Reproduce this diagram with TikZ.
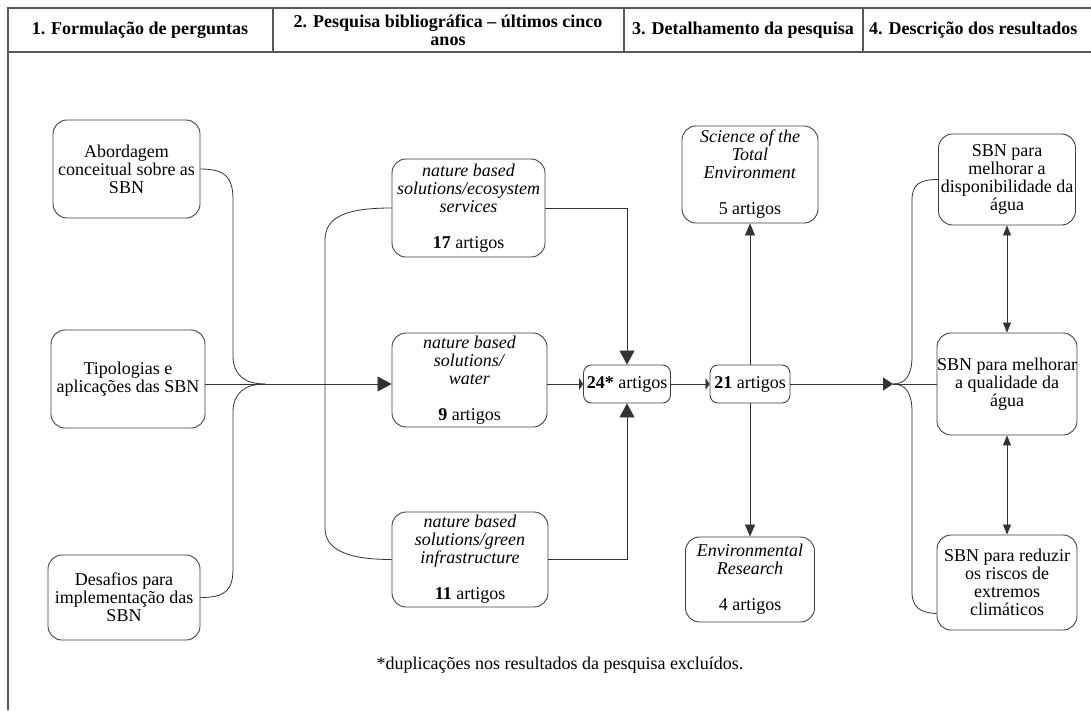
\documentclass[tikz,border=0pt]{standalone}
\usepackage{fontspec}
\setmainfont{Liberation Serif}
\usetikzlibrary{arrows.meta}
\begin{document}
\begin{tikzpicture}[x=1pt,y=-1pt,
  every node/.style={font=\fontsize{18}{18}\selectfont, inner sep=0pt, align=center, text=black},
  box/.style={draw=black!75, line width=0.9pt, rounded corners=14pt},
  sbox/.style={draw=black!75, line width=0.9pt, rounded corners=8pt},
  ln/.style={draw=black!80, line width=0.8pt},
  hdr/.style={draw=black!65, line width=1.2pt},
  big/.style={ln, -{Triangle[length=14pt,width=15pt]}},
  mida/.style={ln, -{Triangle[length=10pt,width=13pt]}},
  med/.style={ln, -{Triangle[length=12pt,width=10pt]}},
  flat/.style={ln, -{Triangle[length=4pt,width=12pt]}},
  dbl/.style={ln, {Triangle[length=10pt,width=8pt]}-{Triangle[length=10pt,width=8pt]}}
]
\path[clip] (0,0) rectangle (1091,710);
\fill[white] (0,0) rectangle (1091,710);

% frame and header
\draw[hdr] (8,710) -- (8,8) -- (1091,8);
\draw[hdr] (8,52) -- (1091,52);
\draw[hdr] (273,8) -- (273,52);
\draw[hdr] (624,8) -- (624,52);
\draw[hdr] (863,8) -- (863,52);
\node (h1) at (140,30) {\textbf{1. Formulação de perguntas}};
\node (h2) at (448,30) {\textbf{2. Pesquisa bibliográfica – últimos cinco}\\\textbf{anos}};
\node (h3) at (743,30) {\textbf{3. Detalhamento da pesquisa}};
\node[anchor=west] (h4) at (869,30) {\textbf{4. Descrição dos resultados}};

% column 1
\node[box, minimum width=147pt, minimum height=98pt] (abo) at (126.5,169) {Abordagem\\conceitual sobre as\\SBN};
\node[box, minimum width=154pt, minimum height=98pt] (tip) at (128,379) {Tipologias e\\aplicações das SBN};
\node[box, minimum width=152pt, minimum height=85pt] (des) at (124,597.5) {Desafios para\\implementação das\\SBN};

% column 2
\node[box, minimum width=153pt, minimum height=98pt] (eco) at (468.5,208) {\textit{nature based}\\\textit{solutions/ecosystem}\\\textit{services}\\[18pt]\textbf{17} artigos};
\node[box, minimum width=155pt, minimum height=94pt] (wat) at (469.5,380) {\textit{nature based}\\\textit{solutions/}\\\textit{water}\\[18pt]\textbf{9} artigos};
\node[box, minimum width=156pt, minimum height=95pt] (grn) at (470,559.5) {\textit{nature based}\\\textit{solutions/green}\\\textit{infrastructure}\\[18pt]\textbf{11} artigos};
\node[sbox, minimum width=87pt, minimum height=38pt] (s24) at (627,384) {\textbf{24*} artigos};

% column 3
\node[sbox, minimum width=80pt, minimum height=38pt] (s21) at (750,384) {\textbf{21} artigos};
\node[box, minimum width=136pt, minimum height=97pt] (sci) at (750,174.5) {\textit{Science of the}\\\textit{Total}\\\textit{Environment}\\[18pt]5 artigos};
\node[box, minimum width=129pt, minimum height=85pt] (env) at (750,579.5) {\textit{Environmental}\\\textit{Research}\\[18pt]4 artigos};

% column 4
\node[box, minimum width=137pt, minimum height=91pt] (r1) at (1007,179.5) {SBN para\\melhorar a\\disponibilidade da\\água};
\node[box, minimum width=140pt, minimum height=102pt] (r2) at (1007,384) {SBN para melhorar\\a qualidade da\\água};
\node[box, minimum width=140pt, minimum height=95pt] (r3) at (1007,582.5) {SBN para reduzir\\os riscos de\\extremos\\climáticos};

\node (fn) at (560,665) {*duplicações nos resultados da pesquisa excluídos.};

% connectors column 1 -> 2
\coordinate (M1) at (265,384);
\draw[ln] (abo.east) .. controls (226,169) and (233,178) .. (233,200) -- (233,356) .. controls (233,375) and (245,384) .. (M1);
\draw[ln] (des.east) .. controls (226,597.5) and (233,590) .. (233,568) -- (233,412) .. controls (233,393) and (245,384) .. (M1);
\draw[big] (M1 -| tip.east) -- (M1 -| wat.west);
\draw[ln] (eco.west) .. controls (348,208) and (325,216) .. (325,240) -- (325,528) .. controls (325,550) and (348,559.5) .. (grn.west);

% column 2 -> 24*
\draw[big] (eco.east) -| (s24.north);
\draw[big] (grn.east) -| (s24.south);
\draw[flat] (s24.west -| wat.east) -- (s24.west);
\draw[flat] (s24) -- (s21);

% column 3
\draw[med] (s21) -- (sci);
\draw[med] (s21) -- (env);
\coordinate (M2) at (893,384);
\draw[mida] (s21.east) -- (M2);
\draw[ln] (M2) -- (r2.west);
\draw[ln] (M2) .. controls (905,384) and (912,376) .. (912,356) -- (912,200) .. controls (912,184) and (920,179.5) .. (r1.west);
\draw[ln] (M2) .. controls (905,384) and (912,392) .. (912,412) -- (912,592) .. controls (912,607) and (920,613) .. ([yshift=17pt]r3.south west);

% column 4
\draw[dbl] (r1) -- (r2);
\draw[dbl] (r2) -- (r3);
\end{tikzpicture}
\end{document}
